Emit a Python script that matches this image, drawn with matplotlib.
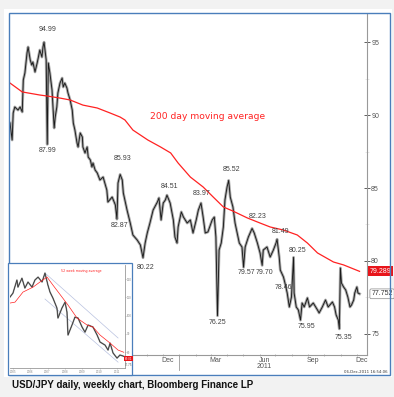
import matplotlib
matplotlib.use("Agg")
import matplotlib.pyplot as plt
import matplotlib.dates as mdates
from matplotlib.patches import Rectangle
from matplotlib.transforms import blended_transform_factory
import pandas as pd

# daily chart: USD/JPY price
price_dates = [
    "2010-02-17", "2010-02-21", "2010-02-23", "2010-02-26", "2010-03-04", "2010-03-08", "2010-03-12",
    "2010-03-14", "2010-03-17", "2010-03-21", "2010-03-23", "2010-03-27", "2010-03-30", "2010-04-01",
    "2010-04-05", "2010-04-09", "2010-04-11", "2010-04-14", "2010-04-18", "2010-04-20", "2010-04-22",
    "2010-04-26", "2010-04-28", "2010-04-30", "2010-05-03", "2010-05-07", "2010-05-09", "2010-05-11",
    "2010-05-13", "2010-05-16", "2010-05-18", "2010-05-22", "2010-05-26", "2010-05-28", "2010-05-31",
    "2010-06-04", "2010-06-06", "2010-06-10", "2010-06-14", "2010-06-16", "2010-06-19", "2010-06-23",
    "2010-06-25", "2010-06-29", "2010-07-03", "2010-07-04", "2010-07-08", "2010-07-12", "2010-07-14",
    "2010-07-18", "2010-07-21", "2010-07-23", "2010-07-27", "2010-07-31", "2010-08-05", "2010-08-11",
    "2010-08-18", "2010-08-20", "2010-08-28", "2010-09-03", "2010-09-06", "2010-09-08", "2010-09-12",
    "2010-09-16", "2010-09-18", "2010-09-25", "2010-10-01", "2010-10-06", "2010-10-14", "2010-10-20",
    "2010-10-25", "2010-10-29", "2010-11-02", "2010-11-07", "2010-11-13", "2010-11-21", "2010-11-24",
    "2010-11-28", "2010-12-02", "2010-12-06", "2010-12-09", "2010-12-15", "2010-12-21", "2010-12-24",
    "2010-12-28", "2010-12-30", "2011-01-05", "2011-01-09", "2011-01-16", "2011-01-22", "2011-01-27",
    "2011-02-02", "2011-02-06", "2011-02-11", "2011-02-15", "2011-02-19", "2011-02-24", "2011-03-04",
    "2011-03-08", "2011-03-11", "2011-03-14", "2011-03-17", "2011-03-21", "2011-03-25", "2011-03-28",
    "2011-04-01", "2011-04-04", "2011-04-07", "2011-04-12", "2011-04-16", "2011-04-20", "2011-04-24",
    "2011-04-29", "2011-05-02", "2011-05-05", "2011-05-11", "2011-05-18", "2011-05-22", "2011-05-28",
    "2011-06-02", "2011-06-06", "2011-06-08", "2011-06-15", "2011-06-21", "2011-06-27", "2011-07-02",
    "2011-07-04", "2011-07-08", "2011-07-10", "2011-07-16", "2011-07-19", "2011-07-23", "2011-07-27",
    "2011-07-31", "2011-08-04", "2011-08-05", "2011-08-09", "2011-08-13", "2011-08-17", "2011-08-20",
    "2011-08-24", "2011-08-30", "2011-09-03", "2011-09-10", "2011-09-18", "2011-09-21", "2011-09-27",
    "2011-10-03", "2011-10-08", "2011-10-16", "2011-10-20", "2011-10-23", "2011-10-27", "2011-10-29",
    "2011-10-31", "2011-11-02", "2011-11-06", "2011-11-10", "2011-11-14", "2011-11-18", "2011-11-21",
    "2011-11-25", "2011-11-27", "2011-12-01", "2011-12-03", "2011-12-06",
]
price_values = [
    89.45, 88.29, 90.14, 90.55, 90.34, 90.55, 90.21,
    92.40, 92.88, 94.25, 94.66, 93.77, 93.42, 93.63,
    92.95, 93.56, 93.90, 94.45, 93.97, 94.66, 94.99,
    93.77, 87.99, 93.56, 92.88, 91.71, 90.34, 89.11,
    89.86, 90.55, 91.51, 92.19, 92.53, 91.92, 92.19,
    91.85, 91.51, 91.03, 90.34, 89.45, 88.97, 88.08,
    87.81, 88.77, 88.49, 87.81, 87.40, 87.81, 87.12,
    86.92, 86.44, 86.71, 86.23, 86.03, 85.55, 85.75,
    84.86, 84.04, 84.38, 83.84, 82.87, 85.34, 85.93,
    85.55, 84.66, 83.49, 82.60, 81.78, 81.44, 81.10,
    80.22, 81.23, 81.92, 82.60, 83.49, 84.04, 84.32,
    82.81, 83.97, 84.18, 84.51, 83.97, 82.81, 81.64,
    81.23, 82.33, 83.36, 83.01, 82.60, 82.81, 81.92,
    82.81, 83.49, 83.97, 83.01, 81.92, 81.99, 82.81,
    83.01, 81.64, 76.25, 80.75, 81.23, 82.33, 84.18,
    85.07, 85.52, 84.38, 83.70, 82.60, 81.92, 81.23,
    80.96, 79.57, 80.96, 81.64, 82.23, 81.92, 81.23,
    80.55, 79.70, 80.75, 80.96, 80.27, 80.75, 81.23,
    81.49, 80.27, 79.38, 78.90, 78.46, 77.81, 76.85,
    77.53, 80.25, 77.81, 76.85, 76.64, 75.95, 77.12,
    76.85, 77.47, 76.85, 77.12, 76.64, 76.44, 76.85,
    77.33, 76.85, 77.19, 76.85, 76.30, 75.96, 75.35,
    79.52, 78.49, 78.22, 78.01, 77.53, 76.85, 76.99,
    77.33, 77.81, 78.22, 77.81, 77.75,
]

# 200 day moving average
ma_dates = [
    "2010-02-17", "2010-03-12", "2010-04-14", "2010-04-28", "2010-05-22", "2010-06-10", "2010-07-04",
    "2010-07-31", "2010-08-24", "2010-09-12", "2010-09-21", "2010-10-06", "2010-10-20", "2010-11-03",
    "2010-11-27", "2010-12-16", "2010-12-30", "2011-01-22", "2011-02-15", "2011-03-06", "2011-03-25",
    "2011-04-12", "2011-05-09", "2011-06-02", "2011-06-21", "2011-07-16", "2011-08-11", "2011-08-30",
    "2011-09-18", "2011-10-18", "2011-11-06", "2011-12-06",
]
ma_values = [
    92.19, 91.58, 91.37, 91.30, 91.16, 91.03, 90.68,
    90.48, 90.14, 89.86, 89.66, 88.97, 88.63, 88.29,
    87.81, 87.40, 86.71, 85.75, 85.07, 84.38, 83.70,
    83.42, 82.95, 82.60, 82.33, 82.12, 81.78, 81.23,
    80.55, 79.93, 79.73, 79.29,
]

# annotated highs / lows: text and where it sits
peak_labels = ["94.99", "87.99", "85.93", "82.87", "80.22", "84.51", "83.97", "85.52", "76.25",
               "79.57", "79.70", "82.23", "81.49", "80.25", "78.46", "75.95", "75.35"]
peak_label_dates = ["2010-04-28", "2010-04-28", "2010-09-17", "2010-09-10", "2010-10-29", "2010-12-13",
                    "2011-02-13", "2011-04-10", "2011-03-13", "2011-05-07", "2011-06-10", "2011-05-28",
                    "2011-07-11", "2011-08-11", "2011-07-16", "2011-08-28", "2011-11-06"]
peak_label_values = [95.89, 87.60, 87.05, 82.40, 79.52, 85.07, 84.59, 86.30, 75.82,
                     79.18, 79.18, 83.08, 81.99, 80.75, 78.15, 75.48, 74.79]

last_ma = 79.289
last_price = 77.752

y_ticks = [75, 80, 85, 90, 95]
x_label_dates = ["2010-12-10", "2011-03-10", "2011-06-10", "2011-09-10", "2011-12-10"]
x_labels = ["Dec", "Mar", "Jun", "Sep", "Dec"]

# weekly inset chart
inset_years = [2005.33, 2005.5, 2005.73, 2005.79, 2006.02, 2006.19, 2006.37, 2006.6, 2006.77, 2006.95,
               2007.18, 2007.35, 2007.52, 2007.64, 2007.81, 2008.04, 2008.1, 2008.33, 2008.51, 2008.62,
               2008.68, 2008.91, 2009.08, 2009.26, 2009.49, 2009.66, 2009.84, 2010.12, 2010.36, 2010.53,
               2010.82, 2010.99, 2011.11, 2011.28, 2011.51, 2011.68, 2011.9]
inset_values = [110.2, 112.3, 119.5, 115.6, 120.5, 115.1, 118.4, 115.6, 119.5, 121.1,
                118.4, 123.3, 116.7, 112.9, 109.6, 104.2, 98.7, 104.2, 107.4, 102.0,
                89.4, 94.9, 99.2, 98.7, 93.8, 91.0, 94.9, 93.8, 89.4, 85.6,
                83.9, 81.2, 85.0, 79.6, 76.8, 78.5, 77.8]
inset_ma_years = [2005.33, 2005.62, 2006.08, 2006.66, 2007.06, 2007.47, 2007.81, 2008.33, 2008.68, 2009.2,
                  2009.78, 2010.12, 2010.53, 2011.11, 2011.57, 2011.9]
inset_ma_values = [106.9, 107.4, 112.9, 115.6, 118.4, 121.1, 116.7, 110.2, 105.8, 98.7,
                   94.9, 93.8, 89.4, 85.0, 81.2, 80.0]
channel_years = [2007.35, 2011.57]
channel_upper = [123.3, 87.8]
channel_lower = [109.1, 74.6]
inset_y_ticks = [80, 90, 100, 110, 120]
inset_x_ticks = [2005.5, 2006.5, 2007.5, 2008.5, 2009.5, 2010.5, 2011.5]
inset_x_labels = ["2005", "2006", "2007", "2008", "2009", "2010", "2011"]

W, H = 394, 397
BLUE = "#4a7ebb"
RED = "#ff2222"
GREY = "#999999"
TXT = "#404040"

plt.rcParams["font.family"] = ["Liberation Sans", "DejaVu Sans"]

fig = plt.figure(figsize=(W / 100, H / 100), dpi=100)
fig.patch.set_facecolor("#f2f2f2")

def fx(px):
    return px / W

def fy(py):
    return 1 - py / H

# white panel and blue frame
fig.add_artist(Rectangle((fx(4), fy(377)), fx(388), 368 / H, transform=fig.transFigure,
                         fc="white", ec="none", zorder=-1))
fig.add_artist(Rectangle((fx(9), fy(375)), fx(381), 362 / H, transform=fig.transFigure,
                         fill=False, ec=BLUE, lw=1.0, zorder=1))

ax = fig.add_axes([fx(10), fy(355), fx(357), 341 / H])
ax.set_facecolor("white")

pdates = pd.to_datetime(price_dates)
ax.plot(pdates, price_values, color="#a8a8a8", lw=2.0)
ax.plot(pdates, price_values, color="#1a1a1a", lw=0.65)
ax.plot(pd.to_datetime(ma_dates), ma_values, color=RED, lw=0.9)

for t, d, v in zip(peak_labels, pd.to_datetime(peak_label_dates), peak_label_values):
    ax.text(d, v, t, fontsize=5, color=TXT, ha="center", va="center")

ax.text(pd.Timestamp("2010-11-08"), 89.93, "200 day moving average", color=RED,
        fontsize=6.6, family="DejaVu Sans", ha="left", va="center")

ax.set_xlim(pd.Timestamp("2010-02-17"), pd.Timestamp("2011-12-20"))
ax.set_ylim(73.56, 96.92)

for s in ["left", "top"]:
    ax.spines[s].set_visible(False)
for s in ["right", "bottom"]:
    ax.spines[s].set_color(GREY)
    ax.spines[s].set_linewidth(0.8)

ax.yaxis.tick_right()
ax.set_yticks(y_ticks)
ax.set_yticklabels([str(v) for v in y_ticks])
ax.set_yticks([77.5, 82.5, 87.5, 92.5], minor=True)
ax.tick_params(axis="y", which="major", direction="inout", length=4, width=0.6,
               color="#444444", labelsize=5, labelcolor="#555555", pad=1)
ax.tick_params(axis="y", which="minor", direction="inout", length=3, width=0.5, color="#dddddd")

ax.set_xticks(pd.to_datetime(x_label_dates))
ax.set_xticklabels(x_labels)
ax.xaxis.set_minor_locator(mdates.MonthLocator())
ax.tick_params(axis="x", which="major", length=0, labelsize=5, labelcolor="#555555", pad=1.5)
ax.tick_params(axis="x", which="minor", direction="inout", length=2, width=0.5, color=GREY)

bt = blended_transform_factory(ax.transData, ax.transAxes)
jan = mdates.date2num(pd.Timestamp("2011-01-01"))
ax.plot([jan, jan], [0, -0.045], transform=bt, clip_on=False, color=GREY, lw=0.6)
ax.text(pd.Timestamp("2011-06-10"), -0.033, "2011", transform=bt, fontsize=5,
        color="#555555", ha="center", va="center")

rt = blended_transform_factory(ax.transAxes, ax.transData)
ax.text(1.007, last_ma, f"{last_ma:.3f}", transform=rt, fontsize=5, color="white",
        ha="left", va="center", bbox=dict(boxstyle="square,pad=0.2", fc="#e8151b", ec="none"))
ax.text(1.012, last_price, f"{last_price:.3f}", transform=rt, fontsize=5, color="#333333",
        ha="left", va="center",
        bbox=dict(boxstyle="round,pad=0.2", fc="white", ec="#888888", lw=0.5))

# inset weekly chart
fig.add_artist(Rectangle((fx(8), fy(375)), fx(124), 112 / H, transform=fig.transFigure,
                         fc="white", ec=BLUE, lw=0.9, zorder=2))
ins = fig.add_axes([fx(10), fy(368), fx(115), 103 / H])
ins.set_zorder(3)
ins.set_facecolor("white")
ins.plot(channel_years, channel_upper, color="#b9c2e0", lw=0.5)
ins.plot(channel_years, channel_lower, color="#b9c2e0", lw=0.5)
ins.plot(inset_years, inset_values, color="#8a8a8a", lw=1.1)
ins.plot(inset_years, inset_values, color="#222222", lw=0.4)
ins.plot(inset_ma_years, inset_ma_values, color=RED, lw=0.5)
ins.text(2008.3, 124.5, "52 week moving average", color=RED, fontsize=2.3,
         family="DejaVu Sans", ha="left", va="center")
ins.set_xlim(2005.33, 2011.97)
ins.set_ylim(71.4, 127.7)
for s in ["left", "top"]:
    ins.spines[s].set_visible(False)
for s in ["right", "bottom"]:
    ins.spines[s].set_color(GREY)
    ins.spines[s].set_linewidth(0.6)
ins.yaxis.tick_right()
ins.set_yticks(inset_y_ticks)
ins.set_yticklabels([str(v) for v in inset_y_ticks])
ins.set_xticks(inset_x_ticks)
ins.set_xticklabels(inset_x_labels)
ins.tick_params(axis="both", length=1, width=0.4, color=GREY, labelsize=2.2,
                labelcolor="#888888", pad=0.5)
irt = blended_transform_factory(ins.transAxes, ins.transData)
ins.text(1.0, 76.5, "80.01", transform=irt, fontsize=2.2, color="white", ha="left", va="center",
         bbox=dict(boxstyle="square,pad=0.25", fc="#e8151b", ec="none"), clip_on=False)
ins.text(1.0, 73.0, "77.75", transform=irt, fontsize=2.2, color="#555555", ha="left",
         va="center", clip_on=False)

fig.text(fx(388), fy(372), "06-Dec-2011 16:54:06", fontsize=2.8, color="#333333",
         ha="right", va="center", family="DejaVu Sans")
fig.text(fx(12), fy(385), "USD/JPY daily, weekly chart, Bloomberg Finance LP", fontsize=7,
         fontweight="bold", color="#111111", ha="left", va="center")

fig.savefig("out.png", dpi=100, facecolor=fig.get_facecolor())
